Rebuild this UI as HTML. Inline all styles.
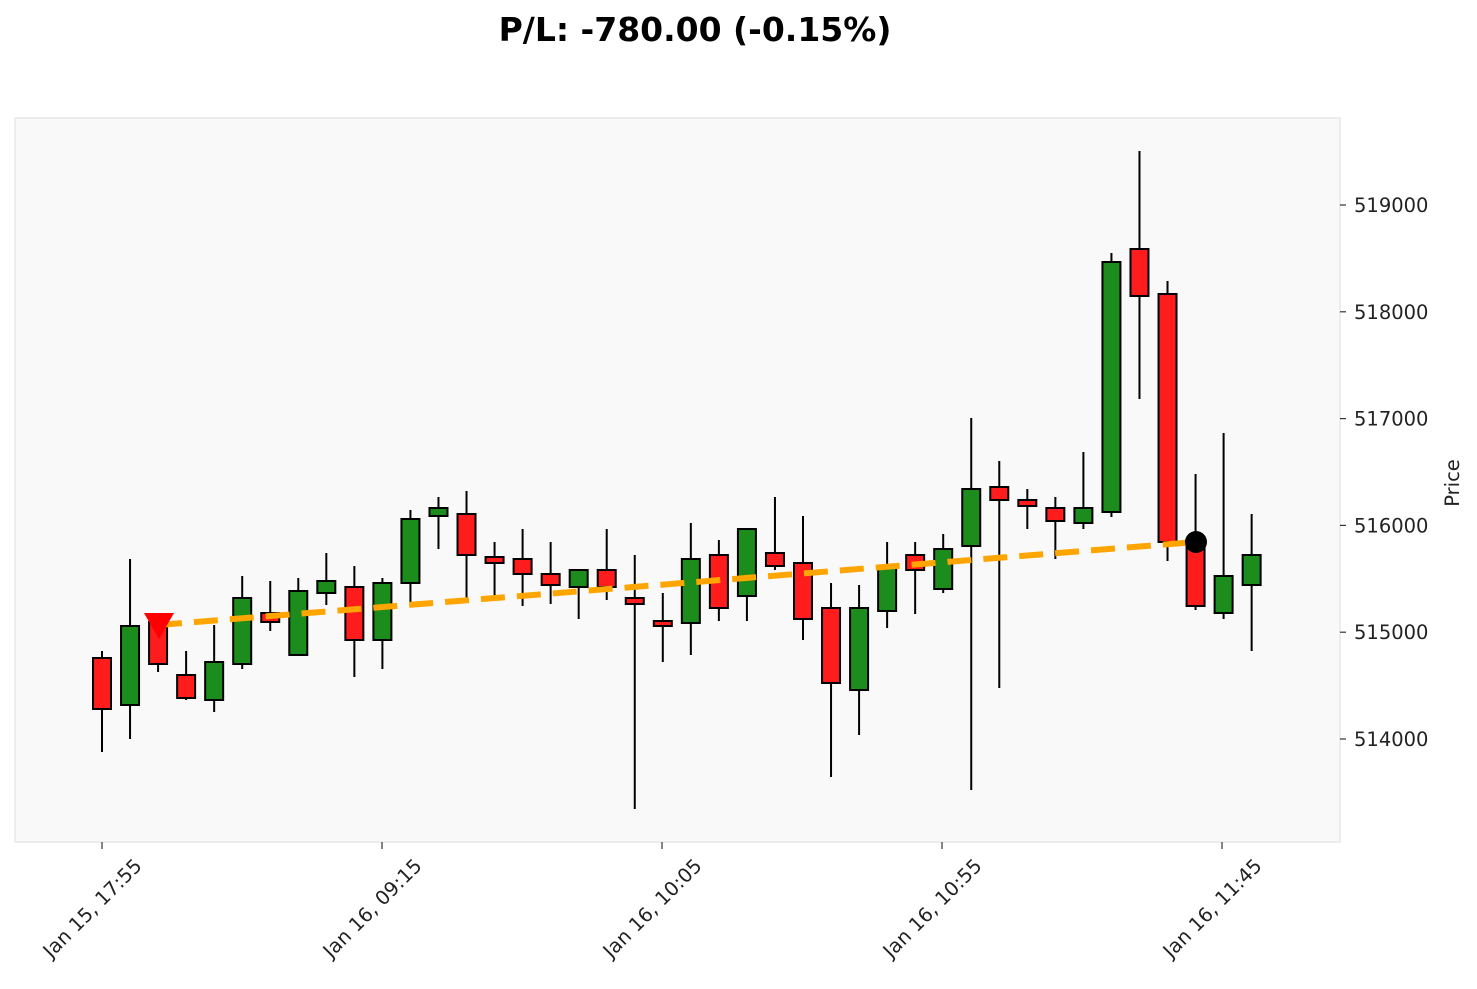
<!DOCTYPE html>
<html><head><meta charset="utf-8"><style>
body{margin:0;background:#fff;}
svg text{font-family:"DejaVu Sans","Liberation Sans",sans-serif;}
</style></head><body>
<svg id="s" width="1477" height="984" xmlns="http://www.w3.org/2000/svg">
<rect width="1477" height="984" fill="#fff"/>
<text x="695" y="41" text-anchor="middle" font-size="33" font-weight="bold" fill="#000">P/L: -780.00 (-0.15%)</text>
<rect x="15" y="118" width="1325" height="724" fill="#f9f9f9" stroke="#e8e8e8" stroke-width="1.5"/>
<g id="c"></g>
<line x1="158" y1="625" x2="1196" y2="542" stroke="#ffa500" stroke-width="6" stroke-dasharray="24,12"/>
<polygon points="144,613 174,613 159,639" fill="#ff0000"/>
<circle cx="1196" cy="542" r="11" fill="#000"/>
<g font-size="19.5" fill="#222" id="y"></g>
<text transform="translate(1459,483) rotate(-90)" text-anchor="middle" font-size="19.5" fill="#222">Price</text>
<g font-size="19.5" fill="#222" id="x"></g>
</svg>
<script>
var d=[["r",658,709,651,752],["g",626,705,559,739],["r",622,664,615,672],["r",675,698,651,700],["g",662,700,625,712],["g",598,664,576,669],["r",613,622,581,631],["g",591,655,578,655],["g",581,593,553,605],["r",587,640,566,677],["g",583,640,578,669],["g",519,583,510,602],["g",508,516,497,549],["r",514,555,491,598],["r",557,563,542,598],["r",559,574,529,606],["r",574,585,542,604],["g",570,587,570,619],["r",570,587,529,600],["r",598,604,555,809],["r",621,626,593,662],["g",559,623,523,655],["r",555,608,540,621],["g",529,596,529,621],["r",553,566,497,570],["r",563,619,516,640],["r",608,683,583,777],["g",608,690,585,735],["g",568,611,542,628],["r",555,570,542,614],["g",549,589,534,593],["g",489,546,418,790],["r",487,500,461,688],["r",500,506,489,529],["r",508,521,497,559],["g",508,523,452,529],["g",262,512,253,517],["r",249,296,151,399],["r",294,542,281,561],["r",544,606,474,610],["g",576,613,433,619],["g",555,585,514,651]];
var h="";d.forEach(function(c,i){var x=102+i*28.04;
h+='<line x1="'+x+'" y1="'+c[3]+'" x2="'+x+'" y2="'+c[4]+'" stroke="#000" stroke-width="2"/>';
h+='<rect x="'+(x-9)+'" y="'+c[1]+'" width="18" height="'+Math.max(c[2]-c[1],2)+'" fill="'+(c[0]=="r"?"#ff1c1c":"#1c8c1c")+'" stroke="#000" stroke-width="2"/>';});
document.getElementById("c").innerHTML=h;
var y="";for(var k=0;k<6;k++){var p=519000-k*1000,yy=205+k*106.8;
y+='<line x1="1340" y1="'+yy+'" x2="1346" y2="'+yy+'" stroke="#333" stroke-width="1.2"/><text x="1354" y="'+(yy+7)+'">'+p+'</text>';}
document.getElementById("y").innerHTML=y;
var L=["Jan 15, 17:55","Jan 16, 09:15","Jan 16, 10:05","Jan 16, 10:55","Jan 16, 11:45"],x="";
L.forEach(function(t,i){var xx=102+i*280;
x+='<line x1="'+xx+'" y1="842" x2="'+xx+'" y2="849" stroke="#333" stroke-width="1.2"/><text text-anchor="end" transform="translate('+(xx+41)+',867) rotate(-45)">'+t+'</text>';});
document.getElementById("x").innerHTML=x;
</script>
</body></html>
